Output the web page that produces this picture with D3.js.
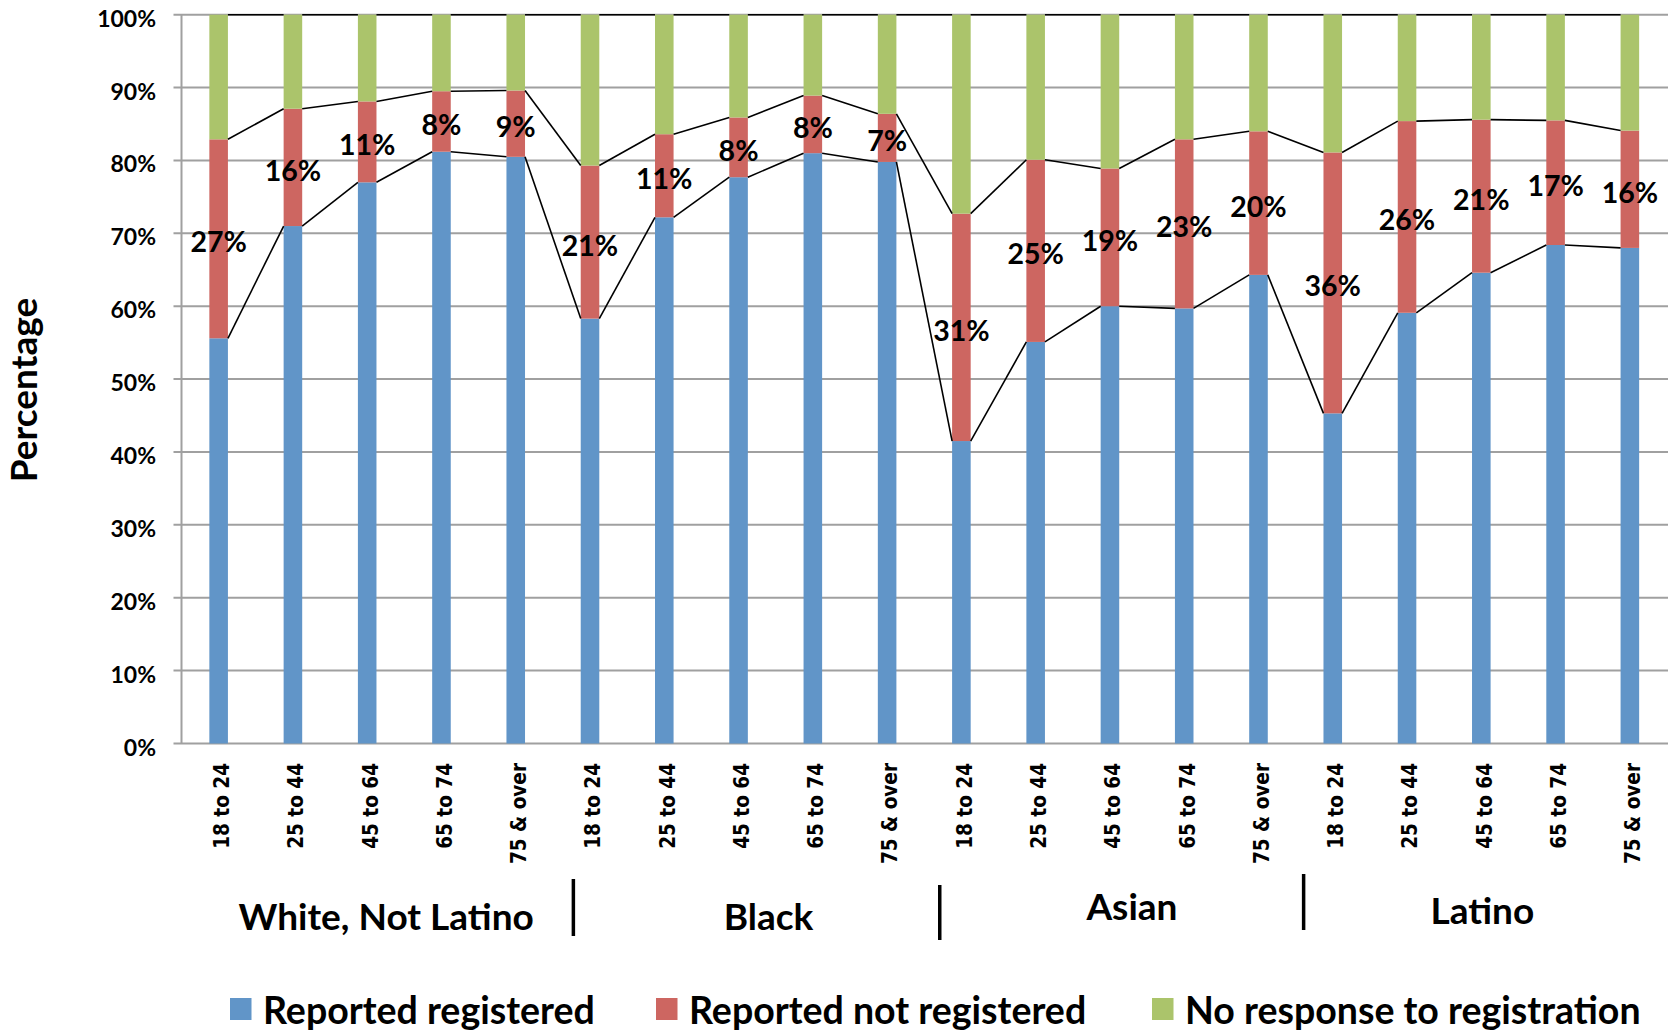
<!DOCTYPE html>
<html>
<head>
<meta charset="utf-8">
<script src="https://cdn.jsdelivr.net/npm/d3@7"></script>
<style>
  body { margin: 0; background: #fff; }
  text { font-family: Lato, "Open Sans", sans-serif; font-weight: bold; fill: #000; }
  .xlab { font-family: "DejaVu Sans", Verdana, sans-serif; }
</style>
</head>
<body>
<div id="svgContainer"></div>
<script>
const width = 1668;
const height = 1033;
const margin = ({top: 14.7, right: 1, bottom: 289.5, left: 181.5});

// data
const groups = ["White, Not Latino", "Black", "Asian", "Latino"];
const ages = ["18 to 24", "25 to 44", "45 to 64", "65 to 74", "75 & over"];
const registered = [55.6, 71.0, 77.0, 81.2, 80.5,
                    58.3, 72.2, 77.7, 81.0, 79.8,
                    41.5, 55.1, 60.0, 59.7, 64.3,
                    45.3, 59.1, 64.6, 68.4, 68.0];
const notRegistered = [27.3, 16.1, 11.1, 8.3, 9.1,
                       21.0, 11.4, 8.2, 7.9, 6.6,
                       31.2, 25.0, 18.9, 23.2, 19.7,
                       35.8, 26.3, 21.0, 17.1, 16.1];
const noResponse = registered.map((d, i) => 100 - d - notRegistered[i]);
const seriesNames = ["Reported registered", "Reported not registered", "No response to registration"];
const yTicks = [0, 10, 20, 30, 40, 50, 60, 70, 80, 90, 100];

const colors = ["#6195c8", "#cd6661", "#abc46b"];

const data = registered.map((d, i) => ({
  idx: i,
  group: groups[Math.floor(i / ages.length)],
  age: ages[i % ages.length],
  "Reported registered": d,
  "Reported not registered": notRegistered[i],
  "No response to registration": noResponse[i]
}));

const svg = d3.select("#svgContainer").append("svg")
  .attr("width", width)
  .attr("height", height);

const x = d3.scaleBand()
  .domain(d3.range(data.length))
  .range([margin.left, width - margin.right])
  .paddingInner(0.75)
  .paddingOuter(0.375);

const y = d3.scaleLinear()
  .domain([0, 100])
  .range([height - margin.bottom, margin.top]);

const stacked = d3.stack().keys(seriesNames)(data);

// gridlines
svg.append("g")
  .selectAll("line")
  .data(yTicks)
  .join("line")
    .attr("x1", margin.left - 8)
    .attr("x2", width)
    .attr("y1", d => y(d))
    .attr("y2", d => y(d))
    .attr("stroke", "#a0a0a0")
    .attr("stroke-width", 2);

// y axis line
svg.append("line")
  .attr("x1", margin.left).attr("x2", margin.left)
  .attr("y1", y(100)).attr("y2", y(0))
  .attr("stroke", "#a0a0a0")
  .attr("stroke-width", 2);

// y tick labels
svg.append("g")
  .selectAll("text")
  .data(yTicks)
  .join("text")
    .attr("x", 156)
    .attr("y", d => y(d) + 12)
    .attr("text-anchor", "end")
    .style("font-size", "23px")
    .text(d => d + "%");

// bars
svg.append("g")
  .selectAll("g")
  .data(stacked)
  .join("g")
    .attr("fill", (d, i) => colors[i])
  .selectAll("rect")
  .data(d => d)
  .join("rect")
    .attr("x", d => x(d.data.idx))
    .attr("y", d => y(d[1]))
    .attr("height", d => y(d[0]) - y(d[1]))
    .attr("width", x.bandwidth());

// series lines between bars
stacked.forEach(s => {
  svg.append("g")
    .selectAll("line")
    .data(s.slice(1))
    .join("line")
      .attr("x1", (d, i) => x(i) + x.bandwidth())
      .attr("y1", (d, i) => y(s[i][1]))
      .attr("x2", d => x(d.data.idx))
      .attr("y2", d => y(d[1]))
      .attr("stroke", "#000")
      .attr("stroke-width", 1.6);
});

// data labels on not-registered segment
svg.append("g")
  .selectAll("text")
  .data(stacked[1])
  .join("text")
    .attr("x", d => x(d.data.idx) + x.bandwidth() / 2)
    .attr("y", d => y((d[0] + d[1]) / 2) + 13.5)
    .attr("text-anchor", "middle")
    .style("font-size", "28.5px")
    .text(d => Math.round(d[1] - d[0]) + "%");

// x tick labels
svg.append("g")
  .selectAll("text")
  .data(data)
  .join("text")
    .attr("class", "xlab")
    .attr("transform", d => `translate(${x(d.idx) + x.bandwidth() / 2 + 3},763) rotate(-90) scale(0.88,1)`)
    .attr("dy", "0.35em")
    .attr("text-anchor", "end")
    .style("font-size", "21px")
    .text(d => d.age);

// y axis title
svg.append("text")
  .attr("transform", "translate(37,390) rotate(-90)")
  .attr("text-anchor", "middle")
  .style("font-size", "37px")
  .text("Percentage");

// group labels and separators (hand placed, like the original)
const groupLabelDx = [19, 30, 22, 1];
const groupLabelY = [930, 930, 920, 924];
svg.append("g")
  .selectAll("text")
  .data(groups)
  .join("text")
    .attr("x", (d, i) => (x(i * 5) + x(i * 5 + 4) + x.bandwidth()) / 2 + groupLabelDx[i])
    .attr("y", (d, i) => groupLabelY[i])
    .attr("text-anchor", "middle")
    .style("font-size", "37px")
    .text(d => d);

const sepDx = [20.5, 15.5, 8];
const sepY = [[879, 936], [885, 940], [874, 930]];
svg.append("g")
  .selectAll("line")
  .data(sepDx)
  .join("line")
    .attr("x1", (d, i) => x((i + 1) * 5) - x.step() * 0.375 + d)
    .attr("x2", (d, i) => x((i + 1) * 5) - x.step() * 0.375 + d)
    .attr("y1", (d, i) => sepY[i][0])
    .attr("y2", (d, i) => sepY[i][1])
    .attr("stroke", "#000")
    .attr("stroke-width", 3.5);

// legend
const legendX = [230, 656, 1152];
const legend = svg.append("g")
  .selectAll("g")
  .data(seriesNames)
  .join("g")
    .attr("transform", (d, i) => `translate(${legendX[i]},998)`);

legend.append("rect")
  .attr("width", 21.5)
  .attr("height", 22)
  .attr("fill", (d, i) => colors[i]);

legend.append("text")
  .attr("x", 33)
  .attr("y", 25.5)
  .style("font-size", "37.5px")
  .text(d => d);
</script>
</body>
</html>
